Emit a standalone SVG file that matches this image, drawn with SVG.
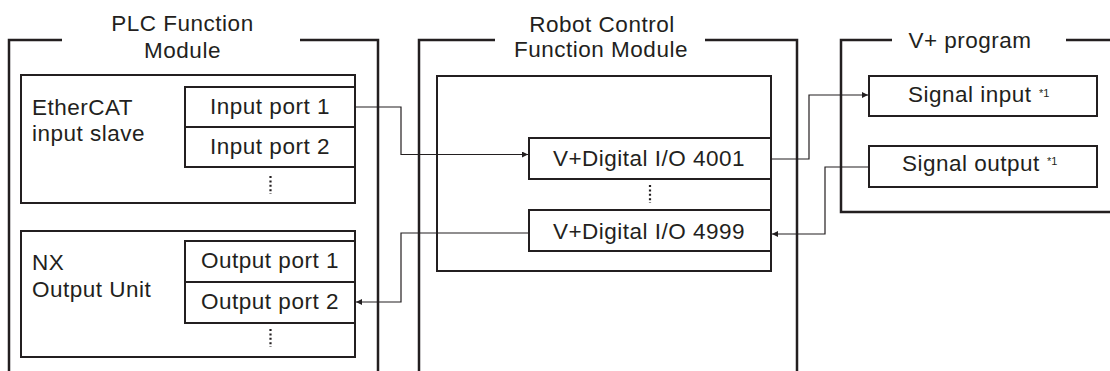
<svg xmlns="http://www.w3.org/2000/svg" width="1110" height="371" viewBox="0 0 1110 371">
<style>
.bracket{fill:none;stroke:#231f20;stroke-width:2.5}
.box{fill:#fff;stroke:#231f20;stroke-width:2}
.port{fill:#fff;stroke:#231f20;stroke-width:2}
.t{font-family:"Liberation Sans",Arial,sans-serif;font-size:22.5px;letter-spacing:0.5px;fill:#231f20}
.c{text-anchor:middle}
.sup{font-size:11px;letter-spacing:0}
.conn{fill:none;stroke:#231f20;stroke-width:1.2}
.dots{stroke:#231f20;stroke-width:2.2;stroke-dasharray:2 2.4}
</style>
<defs>
<marker id="arr" viewBox="0 0 10 10" refX="10" refY="5" markerWidth="13" markerHeight="6" markerUnits="userSpaceOnUse" orient="auto">
<path d="M0,0 L10,5 L0,10 Z" fill="#231f20"/>
</marker>
</defs>
<rect width="1110" height="371" fill="#fff"/>

<g id="plc-module">
<path class="bracket" d="M62,40 H9 V371 M300,40 H378 V371"/>
<text class="t c" x="182.5" y="31">PLC Function</text>
<text class="t c" x="182.5" y="58">Module</text>
</g>

<g id="ethercat-slave">
<rect class="box" x="21" y="75" width="334" height="128"/>
<text class="t" x="32" y="115">EtherCAT</text>
<text class="t" x="32" y="141">input slave</text>
<line class="dots" x1="270.5" y1="176" x2="270.5" y2="194"/>
</g>
<g id="input-port-1">
<rect class="port" x="185" y="87" width="170" height="40"/>
<text class="t c" x="270" y="114">Input port 1</text>
</g>
<g id="input-port-2">
<rect class="port" x="185" y="127" width="170" height="40"/>
<text class="t c" x="270" y="154">Input port 2</text>
</g>

<g id="nx-output-unit">
<rect class="box" x="21" y="231" width="334" height="126"/>
<text class="t" x="32" y="270">NX</text>
<text class="t" x="32" y="297">Output Unit</text>
<line class="dots" x1="270.5" y1="329" x2="270.5" y2="347"/>
</g>
<g id="output-port-1">
<rect class="port" x="185" y="241" width="170" height="41"/>
<text class="t c" x="270" y="268">Output port 1</text>
</g>
<g id="output-port-2">
<rect class="port" x="185" y="282" width="170" height="41"/>
<text class="t c" x="270" y="309">Output port 2</text>
</g>

<g id="robot-module">
<path class="bracket" d="M495,40 H419 V371 M705,40 H797 V371"/>
<text class="t c" x="602" y="32">Robot Control</text>
<text class="t c" x="601" y="57">Function Module</text>
<rect class="box" x="437" y="76" width="334" height="195"/>
<line class="dots" x1="650" y1="185" x2="650" y2="203"/>
</g>
<g id="vdio-4001">
<rect class="port" x="529" y="138" width="242" height="41"/>
<text class="t c" x="649" y="166">V+Digital I/O 4001</text>
</g>
<g id="vdio-4999">
<rect class="port" x="529" y="210" width="242" height="41"/>
<text class="t c" x="649" y="239">V+Digital I/O 4999</text>
</g>

<g id="vplus-program">
<path class="bracket" d="M892,40 H841 V212 H1110 M1066,40 H1110"/>
<text class="t c" x="970" y="48">V+ program</text>
</g>
<g id="signal-input">
<rect class="port" x="869" y="76" width="228" height="40"/>
<text class="t" x="908" y="102">Signal input<tspan class="sup" x="1039" y="97">*1</tspan></text>
</g>
<g id="signal-output">
<rect class="port" x="869" y="146" width="228" height="41"/>
<text class="t" x="902" y="171">Signal output<tspan class="sup" x="1047" y="165">*1</tspan></text>
</g>

<g id="connectors">
<path class="conn" d="M355,107 H401 V154.5 H528" marker-end="url(#arr)"/>
<path class="conn" d="M771,159 H809 V95 H868" marker-end="url(#arr)"/>
<path class="conn" d="M869,167 H825 V234 H772" marker-end="url(#arr)"/>
<path class="conn" d="M529,233 H401 V302 H356" marker-end="url(#arr)"/>
</g>
</svg>
